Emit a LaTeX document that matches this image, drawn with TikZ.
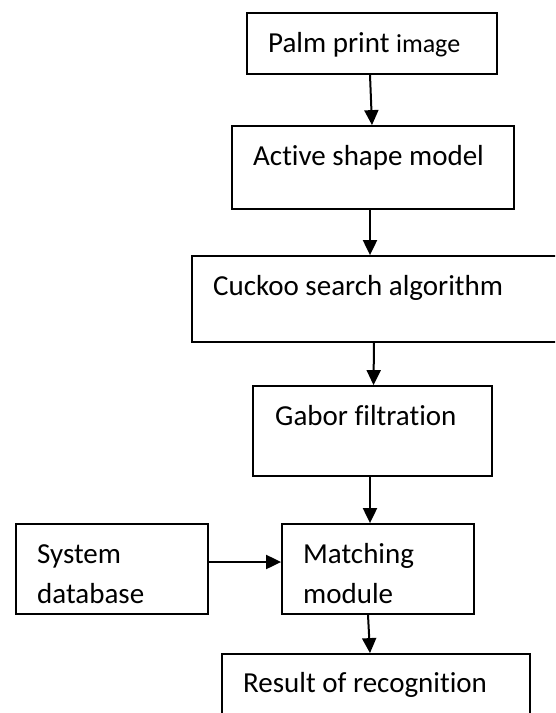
\documentclass[tikz,border=0pt]{standalone}
\usepackage{fontspec}
\setmainfont{Carlito}[Ligatures={NoCommon}]
\usetikzlibrary{arrows.meta}
\tikzset{
  box/.style={draw=black, line width=1.8pt, rectangle, inner sep=0pt},
  lbl/.style={anchor=base west, inner sep=0pt, font=\fontsize{29}{34}\selectfont},
  arr/.style={line width=2pt, -{Triangle[length=15pt,width=14pt]}}
}
\begin{document}
\begin{tikzpicture}[x=1pt,y=-1pt]
\useasboundingbox (0,0) rectangle (555,713);
\fill[white] (0,0) rectangle (555,713);
\clip (0,0) rectangle (555,713);
% boxes
\node[box, minimum width=250pt, minimum height=61pt] (b1) at (372,43.5) {};
\node[box, minimum width=282pt, minimum height=83pt] (b2) at (373,167.5) {};
\node[box, minimum width=408pt, minimum height=86pt] (b3) at (396,299) {};
\node[box, minimum width=239pt, minimum height=90pt] (b4) at (372.5,431) {};
\node[box, minimum width=192pt, minimum height=90pt] (sys) at (112,569) {};
\node[box, minimum width=192pt, minimum height=90pt] (b5) at (378,569) {};
\node[box, minimum width=308pt, minimum height=86pt] (b6) at (376,697) {};
% texts
\node[lbl] (t1) at (268,52) {Palm print {\fontsize{26}{30}\selectfont image}};
\node[lbl] (t2) at (253,165) {Active shape model};
\node[lbl] (t3) at (213,295) {Cuckoo search algorithm};
\node[lbl] (t4) at (275,425) {Gabor filtration};
\node[lbl] (t5a) at (37,563) {System};
\node[lbl] (t5b) at (37,603) {database};
\node[lbl] (t6a) at (303,563) {Matching};
\node[lbl] (t6b) at (303,603) {module};
\node[lbl] (t7) at (243,692) {Result of recognition};
% arrows
\draw[arr] ([xshift=-2pt]b1.south) -- ([xshift=-1pt]b2.north);
\draw[arr] ([xshift=-3pt]b2.south) -- ([xshift=-26pt]b3.north);
\draw[arr] ([xshift=-22pt]b3.south) -- ([xshift=1pt]b4.north);
\draw[arr] ([xshift=-2.5pt]b4.south) -- ([xshift=-8pt]b5.north);
\draw[arr] ([yshift=7pt]sys.east) -- ([yshift=7pt]b5.west);
\draw[arr] ([xshift=-10pt]b5.south) -- ([xshift=-6pt]b6.north);
\end{tikzpicture}
\end{document}
